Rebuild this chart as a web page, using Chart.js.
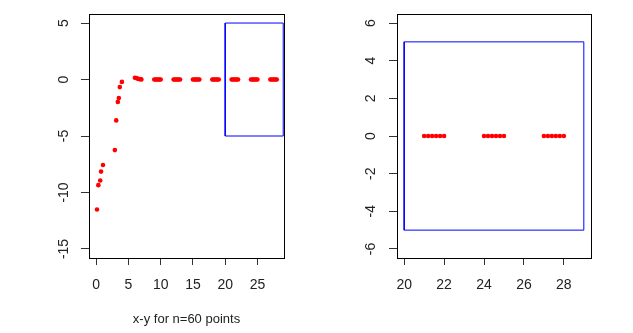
<!DOCTYPE html>
<html><head><meta charset="utf-8">
<script src="https://cdn.jsdelivr.net/npm/chart.js@4/dist/chart.umd.min.js"></script>
<style>
html,body{margin:0;padding:0;background:#fff;}
#wrap{position:relative;width:633px;height:333px;}
canvas{position:absolute;top:0;}
</style></head>
<body><div id="wrap">
<canvas id="c1" width="316" height="333" style="left:0"></canvas>
<canvas id="c2" width="317" height="333" style="left:316px"></canvas>
</div>
<script>
// ---- data ----
const leftX = [0.12, 0.33, 0.62, 0.75, 1.05, 2.89, 3.1, 3.35, 3.51, 3.66, 3.98,
  6, 6.2, 6.4, 6.6, 6.8, 7,
  9, 9.2, 9.4, 9.6, 9.8, 10,
  12, 12.2, 12.4, 12.6, 12.8, 13,
  15, 15.2, 15.4, 15.6, 15.8, 16,
  18, 18.2, 18.4, 18.6, 18.8, 19,
  21, 21.2, 21.4, 21.6, 21.8, 22,
  24, 24.2, 24.4, 24.6, 24.8, 25,
  27, 27.2, 27.4, 27.6, 27.8, 28];
const leftY = [-11.5, -9.35, -8.94, -8.15, -7.57, -6.25, -3.62, -1.98, -1.63, -0.67, -0.21,
  0.15, 0.13, 0.08, 0.04, 0.02, 0.01,
  0, 0, 0, 0, 0, 0,
  0, 0, 0, 0, 0, 0,
  0, 0, 0, 0, 0, 0,
  0, 0, 0, 0, 0, 0,
  0, 0, 0, 0, 0, 0,
  0, 0, 0, 0, 0, 0,
  0, 0, 0, 0, 0, 0];
const rightX = [21, 21.2, 21.4, 21.6, 21.8, 22,
  24, 24.2, 24.4, 24.6, 24.8, 25,
  27, 27.2, 27.4, 27.6, 27.8, 28];
const rightY = [0, 0, 0, 0, 0, 0,
  0, 0, 0, 0, 0, 0,
  0, 0, 0, 0, 0, 0];
const rectX = [20, 29, 29, 20, 20];
const rectY = [-5, -5, 5, 5, -5];
const leftXTicks = [0, 5, 10, 15, 20, 25];
const leftYTicks = [-15, -10, -5, 0, 5];
const rightXTicks = [20, 22, 24, 26, 28];
const rightYTicks = [-6, -4, -2, 0, 2, 4, 6];
const xTitle = "x-y for n=60 points";

const toPts = (xs, ys) => xs.map((x, i) => ({x: x, y: ys[i]}));
const FONT = {family: "'Liberation Sans', Arial, sans-serif", size: 14};

const framePlugin = {
  id: 'frame',
  afterDatasetsDraw(chart) {
    const a = chart.chartArea, ctx = chart.ctx;
    ctx.save();
    ctx.strokeStyle = '#000';
    ctx.lineWidth = 1;
    ctx.strokeRect(Math.round(a.left) + 0.5, Math.round(a.top) + 0.5,
      Math.round(a.right - a.left), Math.round(a.bottom - a.top));
    ctx.restore();
  }
};

function makeChart(id, xs, ys, cfg) {
  return new Chart(document.getElementById(id), {
    type: 'scatter',
    data: {
      datasets: [
        {data: toPts(xs, ys), pointRadius: 2.3, pointBackgroundColor: '#ff0000',
         pointBorderWidth: 0, pointBorderColor: '#ff0000', showLine: false},
        {data: toPts(rectX, rectY), showLine: true, borderColor: '#0000ff',
         borderWidth: 1, pointRadius: 0, fill: false}
      ]
    },
    options: {
      responsive: false, animation: false, devicePixelRatio: 1,
      layout: {padding: {top: 14, right: cfg.padRight, left: 0, bottom: 0}},
      plugins: {legend: {display: false}, tooltip: {enabled: false}},
      scales: {
        x: {
          type: 'linear', min: cfg.xmin, max: cfg.xmax,
          afterBuildTicks: s => { s.ticks = cfg.xTicks.map(v => ({value: v})); },
          afterFit: s => { s.height = 75; s.paddingLeft = 0; s.paddingRight = 0; },
          grid: {drawOnChartArea: false, drawTicks: true, tickLength: 7, color: '#333'},
          border: {display: false},
          ticks: {font: FONT, color: '#222', padding: 12, maxRotation: 0, minRotation: 0},
          title: {display: !!cfg.title, text: cfg.title || '', font: {family: FONT.family, size: 13},
                  color: '#222', padding: {top: 0, bottom: 6}}
        },
        y: {
          type: 'linear', min: cfg.ymin, max: cfg.ymax,
          afterBuildTicks: s => { s.ticks = cfg.yTicks.map(v => ({value: v})); },
          afterFit: s => { s.width = cfg.yWidth; s.paddingTop = 0; s.paddingBottom = 0; },
          grid: {drawOnChartArea: false, drawTicks: true, tickLength: 8, color: '#333'},
          border: {display: false},
          ticks: {font: FONT, color: '#222', padding: cfg.yPad, minRotation: 90, maxRotation: 90,
                  crossAlign: 'center'}
        }
      }
    },
    plugins: [framePlugin]
  });
}

makeChart('c1', leftX, leftY, {
  xmin: -1.12, xmax: 29.12, ymin: -15.8, ymax: 5.8,
  xTicks: leftXTicks, yTicks: leftYTicks, padRight: 32, yWidth: 89, yPad: 7, title: xTitle
});
makeChart('c2', rightX, rightY, {
  xmin: 19.64, xmax: 29.36, ymin: -6.48, ymax: 6.48,
  xTicks: rightXTicks, yTicks: rightYTicks, padRight: 42, yWidth: 81, yPad: 12, title: ''
});
</script>
</body></html>
